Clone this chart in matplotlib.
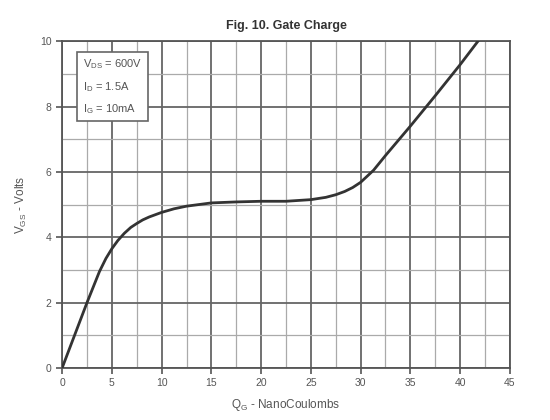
import matplotlib
matplotlib.use('Agg')
import matplotlib.pyplot as plt
from matplotlib.ticker import MultipleLocator

plt.rcParams['font.family'] = ['Liberation Sans', 'DejaVu Sans']
plt.rcParams['mathtext.default'] = 'regular'

# Gate charge curve
qg = [0, 1.25, 2.5, 3.75, 4.4, 5, 5.6, 6.25, 6.9, 7.5, 8.1, 8.75, 10, 11.25,
      12.5, 15, 17.5, 20, 22.5, 25, 26.5, 27.5, 28.4, 29.2, 30, 30.6, 31.3,
      32.5, 35, 37.5, 40, 41.8]
vgs = [0, 1.0, 2.0, 2.95, 3.35, 3.65, 3.9, 4.12, 4.3, 4.42, 4.53, 4.62, 4.76,
       4.87, 4.95, 5.05, 5.08, 5.1, 5.1, 5.15, 5.22, 5.3, 5.4, 5.52, 5.68,
       5.85, 6.05, 6.5, 7.4, 8.33, 9.28, 10.0]
conditions = [r'V$_{DS}$ = 600V', r'I$_D$ = 1.5A', r'I$_G$ = 10mA']

fig = plt.figure(figsize=(5.5, 4.2), dpi=100)
ax = fig.add_axes([0.113, 0.124, 0.814, 0.778])

ax.plot(qg, vgs, color='#333333', lw=2, zorder=3)

ax.set_xlim(0, 45)
ax.set_ylim(0, 10)
ax.xaxis.set_major_locator(MultipleLocator(5))
ax.xaxis.set_minor_locator(MultipleLocator(2.5))
ax.yaxis.set_major_locator(MultipleLocator(2))
ax.yaxis.set_minor_locator(MultipleLocator(1))
ax.grid(which='major', color='#666666', lw=1.3)
ax.grid(which='minor', color='#aaaaaa', lw=0.9)
ax.set_axisbelow(True)
for s in ax.spines.values():
    s.set_color('#555555')
    s.set_linewidth(1.3)
ax.tick_params(which='major', direction='out', length=4, width=1.2,
               color='#555555', labelsize=7.5, labelcolor='#555555')
ax.tick_params(which='minor', length=0)

ax.set_title('Fig. 10. Gate Charge', fontsize=9, fontweight='bold',
             color='#333333', pad=9)
ax.set_xlabel(r'Q$_G$ - NanoCoulombs', fontsize=8.5, color='#555555',
              labelpad=6)
ax.set_ylabel(r'V$_{GS}$ - Volts', fontsize=8.5, color='#555555',
              labelpad=8)

ax.text(2.1, 9.5, '\n'.join(conditions), fontsize=8, color='#555555',
        va='top', ha='left', linespacing=1.85, zorder=4,
        bbox=dict(facecolor='white', edgecolor='#666666', lw=1.2, pad=4))

fig.savefig('out.png', dpi=100)
